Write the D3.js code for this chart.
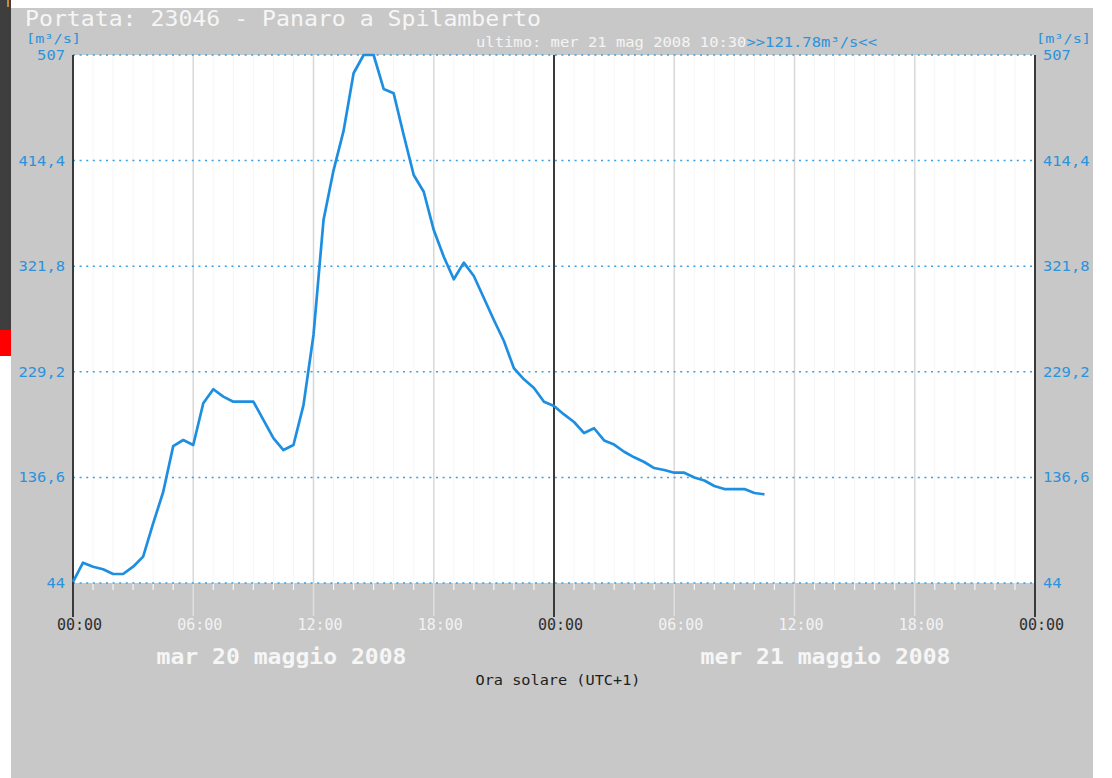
<!DOCTYPE html>
<html>
<head>
<meta charset="utf-8">
<script src="https://cdn.jsdelivr.net/npm/d3@7/dist/d3.min.js"></script>
<style>
  html, body { margin: 0; padding: 0; background: #ffffff; }
  svg { display: block; }
</style>
</head>
<body>
<svg id="chart" width="1112" height="778"></svg>
<script>
// ---- Data ----
const stationTitle = "Portata: 23046 - Panaro a Spilamberto";
const lastLabel = "ultimo: mer 21 mag 2008 10:30";
const lastValueLabel = ">>121.78m³/s<<";
const dayLabels = ["mar 20 maggio 2008", "mer 21 maggio 2008"];
const xAxisTitle = "Ora solare (UTC+1)";
const unitLabel = "[m³/s]";
const startTime = new Date(2008, 4, 20, 0, 0);
const endTime = new Date(2008, 4, 22, 0, 0);
const stepMinutes = 30;
const yTicks = [44, 136.6, 229.2, 321.8, 414.4, 507];
// discharge m3/s, one value every 30 minutes from 20/05/2008 00:00 to 21/05/2008 10:30
const flowValues = [
  45, 61.8, 58.3, 56.0, 51.9, 51.9, 58.3, 67.1, 96.3, 123.8,
  164, 169.4, 165, 201.6, 213.9, 207.4, 203, 203, 203, 187,
  171, 160.6, 165, 200, 261.5, 362.3, 405.9, 440.4, 491, 507,
  507, 477.2, 473.4, 436.8, 401.8, 387.1, 353.5, 330.1, 310.3, 324.9,
  313.2, 293.9, 274.6, 256.2, 232.3, 222.6, 215, 203, 199.2, 191.8,
  185.2, 175.5, 179.7, 169, 165.4, 159.1, 154.2, 150.1, 144.8, 143.1,
  140.7, 140.7, 136.5, 133.9, 129.1, 126.4, 126.4, 126.4, 122.9, 121.78
];

// ---- Layout ----
const svg = d3.select("#chart");
const W = 1112, H = 778;
const panel = {x: 11, y: 8, w: 1082, h: 770};
const plot = {l: 73, r: 1035, t: 55, b: 583};
const mono = "'DejaVu Sans Mono', 'Liberation Mono', monospace";
const blue = "#2b93dc";
const lineBlue = "#1e8fe0";

// screen background pieces
svg.append("rect").attr("x", 0).attr("y", 0).attr("width", W).attr("height", H).attr("fill", "#ffffff");
svg.append("rect").attr("x", 0).attr("y", 0).attr("width", 11).attr("height", 330).attr("fill", "#3e3e3e");
svg.append("rect").attr("x", 0).attr("y", 330).attr("width", 11).attr("height", 26).attr("fill", "#ff0000");
svg.append("rect").attr("x", 7).attr("y", 0).attr("width", 2).attr("height", 7).attr("fill", "#c08a40");
svg.append("rect").attr("x", panel.x).attr("y", panel.y).attr("width", panel.w).attr("height", panel.h).attr("fill", "#c8c8c8");

// scales
const x = d3.scaleTime().domain([startTime, endTime]).range([plot.l, plot.r]);
const y = d3.scaleLinear().domain([yTicks[0], yTicks[yTicks.length - 1]]).range([plot.b, plot.t]);

// plot area
svg.append("rect").attr("x", plot.l).attr("y", plot.t)
  .attr("width", plot.r - plot.l).attr("height", plot.b - plot.t).attr("fill", "#ffffff");

const hours = d3.timeHour.range(startTime, d3.timeHour.offset(endTime, 1));
const g = svg.append("g");

// hourly faint grid
g.selectAll("line.hgrid").data(hours.filter(d => d.getHours() % 6 !== 0)).enter().append("line")
  .attr("x1", d => x(d)).attr("x2", d => x(d))
  .attr("y1", plot.t).attr("y2", plot.b)
  .attr("stroke", "#f6f6f6").attr("stroke-width", 1);
// hourly white ticks below the plot
g.selectAll("line.htick").data(hours.filter(d => d.getHours() % 6 !== 0)).enter().append("line")
  .attr("x1", d => x(d)).attr("x2", d => x(d))
  .attr("y1", plot.b).attr("y2", plot.b + 7)
  .attr("stroke", "#f6f6f6").attr("stroke-width", 1.2);
// 6-hour grid
const six = hours.filter(d => d.getHours() % 6 === 0 && d.getHours() !== 0);
g.selectAll("line.sgrid").data(six).enter().append("line")
  .attr("x1", d => x(d)).attr("x2", d => x(d))
  .attr("y1", plot.t).attr("y2", plot.b)
  .attr("stroke", "#d8d8d8").attr("stroke-width", 1.5);
g.selectAll("line.sgrid2").data(six).enter().append("line")
  .attr("x1", d => x(d)).attr("x2", d => x(d))
  .attr("y1", plot.b).attr("y2", 616)
  .attr("stroke", "#e0e0e0").attr("stroke-width", 1.5);

// horizontal dotted grid
g.selectAll("line.ygrid").data(yTicks).enter().append("line")
  .attr("x1", plot.l).attr("x2", plot.r)
  .attr("y1", d => y(d)).attr("y2", d => y(d))
  .attr("stroke", "#3a9fe4").attr("stroke-width", 1.5)
  .attr("stroke-dasharray", "2,4.6");

// midnight lines
const midnights = hours.filter(d => d.getHours() === 0);
g.selectAll("line.mid").data(midnights).enter().append("line")
  .attr("x1", d => x(d)).attr("x2", d => x(d))
  .attr("y1", plot.t).attr("y2", 617)
  .attr("stroke", "#3a3a3a").attr("stroke-width", 2);

// data line
const series = flowValues.map((v, i) => ({t: d3.timeMinute.offset(startTime, i * stepMinutes), v}));
svg.append("path").datum(series)
  .attr("fill", "none").attr("stroke", lineBlue).attr("stroke-width", 2.7)
  .attr("stroke-linejoin", "round")
  .attr("d", d3.line().x(d => x(d.t)).y(d => y(d.v)));

// y axes
const loc = d3.formatLocale({decimal: ",", thousands: ".", grouping: [3], currency: ["", "€"]});
const fmtY = d => Number.isInteger(d) ? String(d) : loc.format(".1f")(d);
const yl = svg.append("g").attr("transform", `translate(${plot.l},0)`)
  .call(d3.axisLeft(y).tickValues(yTicks).tickFormat(fmtY).tickSize(0).tickPadding(8));
const yr = svg.append("g").attr("transform", `translate(${plot.r},0)`)
  .call(d3.axisRight(y).tickValues(yTicks).tickFormat(fmtY).tickSize(0).tickPadding(8));
[yl, yr].forEach(a => {
  a.select(".domain").remove();
  a.selectAll("text").attr("fill", blue).attr("font-family", mono).attr("font-size", 14)
    .attr("textLength", function () { return this.textContent.length * 9.3; })
    .attr("lengthAdjust", "spacingAndGlyphs");
});

// x axis labels
const xa = svg.append("g").attr("transform", `translate(6,${plot.b})`)
  .call(d3.axisBottom(x).ticks(d3.timeHour.every(6)).tickFormat(d3.timeFormat("%H:%M")).tickSize(0).tickPadding(36));
xa.select(".domain").remove();
xa.selectAll("text").attr("font-family", mono).attr("font-size", 15)
  .attr("fill", d => d.getHours() === 0 ? "#2e2e2e" : "#f2f2f2");

// titles
svg.append("text").attr("x", 25).attr("y", 26).text(stationTitle)
  .attr("font-family", mono).attr("font-size", 21).attr("fill", "#f6f6f6")
  .attr("textLength", 516).attr("lengthAdjust", "spacingAndGlyphs");
svg.append("text").attr("x", 26).attr("y", 43).text(unitLabel)
  .attr("font-family", mono).attr("font-size", 12).attr("fill", blue)
  .attr("textLength", 55).attr("lengthAdjust", "spacingAndGlyphs");
svg.append("text").attr("x", 1036).attr("y", 43).text(unitLabel)
  .attr("font-family", mono).attr("font-size", 12).attr("fill", blue)
  .attr("textLength", 55).attr("lengthAdjust", "spacingAndGlyphs");
const sub = svg.append("text").attr("x", 476).attr("y", 47)
  .attr("font-family", mono).attr("font-size", 14);
sub.append("tspan").text(lastLabel).attr("fill", "#f4f4f4");
sub.append("tspan").text(lastValueLabel).attr("fill", blue);
sub.attr("textLength", 401).attr("lengthAdjust", "spacingAndGlyphs");

// day labels
const dayCenters = [d3.timeHour.offset(startTime, 12), d3.timeHour.offset(startTime, 36)];
const dayShift = [-32, 31];
svg.selectAll("text.day").data(dayLabels).enter().append("text")
  .attr("x", (d, i) => x(dayCenters[i]) + dayShift[i]).attr("y", 664)
  .attr("text-anchor", "middle").text(d => d)
  .attr("font-family", mono).attr("font-size", 21).attr("font-weight", "bold")
  .attr("fill", "#f6f6f6")
  .attr("textLength", 250).attr("lengthAdjust", "spacingAndGlyphs");

svg.append("text").attr("x", 558).attr("y", 685).attr("text-anchor", "middle")
  .text(xAxisTitle).attr("font-family", mono).attr("font-size", 14).attr("fill", "#1e1e1e")
  .attr("textLength", 165).attr("lengthAdjust", "spacingAndGlyphs");
</script>
</body>
</html>
